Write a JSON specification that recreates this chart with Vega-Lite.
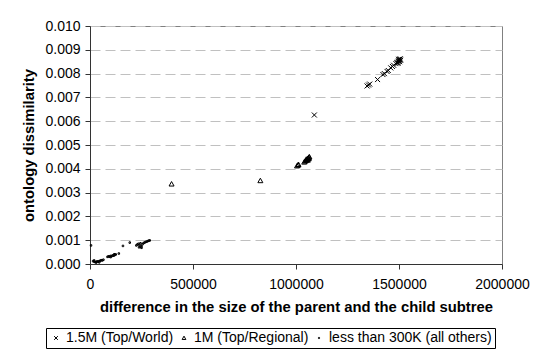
{
  "$schema": "https://vega.github.io/schema/vega-lite/v6.json",
  "width": 412,
  "height": 238,
  "autosize": {"type": "none"},
  "padding": {"left": 90, "top": 26, "right": 34, "bottom": 85},
  "background": "white",
  "config": {
    "font": "Liberation Sans",
    "view": {"stroke": "#808080", "strokeWidth": 1},
    "axis": {"labelFont": "Liberation Sans", "titleFont": "Liberation Sans", "labelColor": "black", "titleColor": "black", "domainColor": "#333333", "tickColor": "#333333"}
  },
  "data": {
    "values": [
      {"diff": 1089000, "dis": 0.00626, "series": "1.5M (Top/World)"},
      {"diff": 1345000, "dis": 0.00748, "series": "1.5M (Top/World)"},
      {"diff": 1352000, "dis": 0.00752, "series": "1.5M (Top/World)"},
      {"diff": 1358000, "dis": 0.00756, "series": "1.5M (Top/World)"},
      {"diff": 1396000, "dis": 0.00775, "series": "1.5M (Top/World)"},
      {"diff": 1422000, "dis": 0.00796, "series": "1.5M (Top/World)"},
      {"diff": 1429000, "dis": 0.00800, "series": "1.5M (Top/World)"},
      {"diff": 1442000, "dis": 0.00809, "series": "1.5M (Top/World)"},
      {"diff": 1448000, "dis": 0.00813, "series": "1.5M (Top/World)"},
      {"diff": 1460000, "dis": 0.00824, "series": "1.5M (Top/World)"},
      {"diff": 1468000, "dis": 0.00830, "series": "1.5M (Top/World)"},
      {"diff": 1474000, "dis": 0.00835, "series": "1.5M (Top/World)"},
      {"diff": 1485000, "dis": 0.00842, "series": "1.5M (Top/World)"},
      {"diff": 1490000, "dis": 0.00846, "series": "1.5M (Top/World)"},
      {"diff": 1494000, "dis": 0.00848, "series": "1.5M (Top/World)"},
      {"diff": 1497000, "dis": 0.00852, "series": "1.5M (Top/World)"},
      {"diff": 1500000, "dis": 0.00855, "series": "1.5M (Top/World)"},
      {"diff": 1502000, "dis": 0.00858, "series": "1.5M (Top/World)"},
      {"diff": 1504000, "dis": 0.00860, "series": "1.5M (Top/World)"},
      {"diff": 1506000, "dis": 0.00862, "series": "1.5M (Top/World)"},
      {"diff": 1498000, "dis": 0.00860, "series": "1.5M (Top/World)"},
      {"diff": 1503000, "dis": 0.00850, "series": "1.5M (Top/World)"},
      {"diff": 1508000, "dis": 0.00856, "series": "1.5M (Top/World)"},
      {"diff": 1495000, "dis": 0.00843, "series": "1.5M (Top/World)"},
      {"diff": 396000, "dis": 0.00336, "series": "1M (Top/Regional)"},
      {"diff": 827000, "dis": 0.00350, "series": "1M (Top/Regional)"},
      {"diff": 1005000, "dis": 0.00412, "series": "1M (Top/Regional)"},
      {"diff": 1010000, "dis": 0.00415, "series": "1M (Top/Regional)"},
      {"diff": 1012000, "dis": 0.00418, "series": "1M (Top/Regional)"},
      {"diff": 1040000, "dis": 0.00428, "series": "1M (Top/Regional)"},
      {"diff": 1045000, "dis": 0.00432, "series": "1M (Top/Regional)"},
      {"diff": 1048000, "dis": 0.00435, "series": "1M (Top/Regional)"},
      {"diff": 1052000, "dis": 0.00438, "series": "1M (Top/Regional)"},
      {"diff": 1055000, "dis": 0.00440, "series": "1M (Top/Regional)"},
      {"diff": 1058000, "dis": 0.00443, "series": "1M (Top/Regional)"},
      {"diff": 1060000, "dis": 0.00445, "series": "1M (Top/Regional)"},
      {"diff": 1062000, "dis": 0.00442, "series": "1M (Top/Regional)"},
      {"diff": 1050000, "dis": 0.00440, "series": "1M (Top/Regional)"},
      {"diff": 1063000, "dis": 0.00448, "series": "1M (Top/Regional)"},
      {"diff": 1057000, "dis": 0.00436, "series": "1M (Top/Regional)"},
      {"diff": 1065000, "dis": 0.00450, "series": "1M (Top/Regional)"},
      {"diff": 5000, "dis": 0.00078, "series": "less than 300K (all others)"},
      {"diff": 15000, "dis": 0.00012, "series": "less than 300K (all others)"},
      {"diff": 20000, "dis": 0.00010, "series": "less than 300K (all others)"},
      {"diff": 25000, "dis": 0.00008, "series": "less than 300K (all others)"},
      {"diff": 30000, "dis": 0.00009, "series": "less than 300K (all others)"},
      {"diff": 35000, "dis": 0.00011, "series": "less than 300K (all others)"},
      {"diff": 40000, "dis": 0.00010, "series": "less than 300K (all others)"},
      {"diff": 45000, "dis": 0.00012, "series": "less than 300K (all others)"},
      {"diff": 50000, "dis": 0.00014, "series": "less than 300K (all others)"},
      {"diff": 55000, "dis": 0.00016, "series": "less than 300K (all others)"},
      {"diff": 60000, "dis": 0.00015, "series": "less than 300K (all others)"},
      {"diff": 65000, "dis": 0.00018, "series": "less than 300K (all others)"},
      {"diff": 20000, "dis": 0.00015, "series": "less than 300K (all others)"},
      {"diff": 30000, "dis": 0.00006, "series": "less than 300K (all others)"},
      {"diff": 45000, "dis": 0.00007, "series": "less than 300K (all others)"},
      {"diff": 85000, "dis": 0.00030, "series": "less than 300K (all others)"},
      {"diff": 90000, "dis": 0.00032, "series": "less than 300K (all others)"},
      {"diff": 95000, "dis": 0.00031, "series": "less than 300K (all others)"},
      {"diff": 100000, "dis": 0.00034, "series": "less than 300K (all others)"},
      {"diff": 105000, "dis": 0.00033, "series": "less than 300K (all others)"},
      {"diff": 110000, "dis": 0.00036, "series": "less than 300K (all others)"},
      {"diff": 115000, "dis": 0.00035, "series": "less than 300K (all others)"},
      {"diff": 120000, "dis": 0.00038, "series": "less than 300K (all others)"},
      {"diff": 125000, "dis": 0.00040, "series": "less than 300K (all others)"},
      {"diff": 140000, "dis": 0.00044, "series": "less than 300K (all others)"},
      {"diff": 100000, "dis": 0.00029, "series": "less than 300K (all others)"},
      {"diff": 118000, "dis": 0.00041, "series": "less than 300K (all others)"},
      {"diff": 160000, "dis": 0.00076, "series": "less than 300K (all others)"},
      {"diff": 193000, "dis": 0.00090, "series": "less than 300K (all others)"},
      {"diff": 225000, "dis": 0.00078, "series": "less than 300K (all others)"},
      {"diff": 230000, "dis": 0.00082, "series": "less than 300K (all others)"},
      {"diff": 235000, "dis": 0.00085, "series": "less than 300K (all others)"},
      {"diff": 240000, "dis": 0.00080, "series": "less than 300K (all others)"},
      {"diff": 245000, "dis": 0.00072, "series": "less than 300K (all others)"},
      {"diff": 250000, "dis": 0.00068, "series": "less than 300K (all others)"},
      {"diff": 255000, "dis": 0.00083, "series": "less than 300K (all others)"},
      {"diff": 260000, "dis": 0.00088, "series": "less than 300K (all others)"},
      {"diff": 265000, "dis": 0.00090, "series": "less than 300K (all others)"},
      {"diff": 270000, "dis": 0.00093, "series": "less than 300K (all others)"},
      {"diff": 275000, "dis": 0.00094, "series": "less than 300K (all others)"},
      {"diff": 280000, "dis": 0.00096, "series": "less than 300K (all others)"},
      {"diff": 285000, "dis": 0.00098, "series": "less than 300K (all others)"},
      {"diff": 290000, "dis": 0.00099, "series": "less than 300K (all others)"},
      {"diff": 245000, "dis": 0.00087, "series": "less than 300K (all others)"},
      {"diff": 250000, "dis": 0.00075, "series": "less than 300K (all others)"},
      {"diff": 238000, "dis": 0.00070, "series": "less than 300K (all others)"}
    ]
  },
  "mark": {"type": "point", "filled": false, "stroke": "black", "strokeWidth": 1, "size": 25, "opacity": 1},
  "encoding": {
    "x": {
      "field": "diff", "type": "quantitative",
      "scale": {"domain": [0, 2000000], "nice": false, "zero": true},
      "axis": {
        "title": "difference in the size of the parent and the child subtree",
        "values": [0, 500000, 1000000, 1500000, 2000000],
        "format": "d", "grid": false,
        "labelFontSize": 14, "titleFontSize": 14.8, "titleFontWeight": "bold",
        "tickSize": 5, "labelPadding": 8, "titlePadding": 8, "labelFlush": false
      }
    },
    "y": {
      "field": "dis", "type": "quantitative",
      "scale": {"domain": [0, 0.01], "nice": false},
      "axis": {
        "title": "ontology dissimilarity",
        "values": [0, 0.001, 0.002, 0.003, 0.004, 0.005, 0.006, 0.007, 0.008, 0.009, 0.01],
        "format": ".3f", "grid": true, "gridColor": "#c0c0c0", "gridDash": [10, 5],
        "labelFontSize": 14, "titleFontSize": 14.8, "titleFontWeight": "bold",
        "tickSize": 5, "labelPadding": 5, "titlePadding": 8
      }
    },
    "shape": {
      "field": "series", "type": "nominal",
      "scale": {
        "domain": ["1.5M (Top/World)", "1M (Top/Regional)", "less than 300K (all others)"],
        "range": ["M-1,-1L1,1M1,-1L-1,1", "M0,-1L1,0.8L-1,0.8Z", "M-0.3,-0.3L0.3,-0.3L0.3,0.3L-0.3,0.3Z"]
      },
      "legend": {
        "title": null, "orient": "none", "direction": "horizontal", "columns": 3,
        "legendX": -44, "legendY": 302,
        "labelFontSize": 14, "labelFont": "Liberation Sans", "labelColor": "black", "labelLimit": 400,
        "symbolSize": 14, "symbolStrokeColor": "black", "symbolStrokeWidth": 1, "symbolFillColor": "transparent",
        "labelOffset": 3, "columnPadding": 3, "padding": 3,
        "strokeColor": "black", "fillColor": "white"
      }
    }
  }
}
